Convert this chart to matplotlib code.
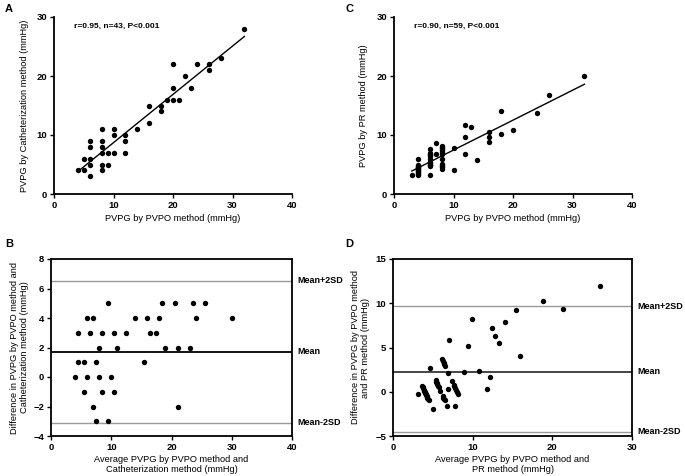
import matplotlib
matplotlib.use("Agg")
import matplotlib.pyplot as plt

plt.rcParams['font.family'] = ['Liberation Sans', 'DejaVu Sans']

# ---------------- Panel A data ----------------
a_x = [4, 5, 5, 6, 6, 6, 6, 6, 8, 8, 8, 8, 8, 8, 9, 9, 10, 10, 10, 12, 12, 12,
       14, 16, 16, 18, 18, 19, 20, 20, 20, 21, 22, 23, 24, 26, 26, 28, 32]
a_y = [4, 4, 6, 3, 5, 6, 8, 9, 4, 5, 7, 8, 9, 11, 5, 7, 7, 10, 11, 7, 9, 10,
       11, 12, 15, 14, 15, 16, 16, 18, 22, 16, 20, 18, 22, 21, 22, 23, 28]
a_fit_x = [4, 32]
a_fit_y = [3.8, 26.7]
a_text = "r=0.95, n=43, P<0.001"

# ---------------- Panel B data ----------------
b_x = [4, 4.5, 4.5, 5.5, 5.5, 6, 6, 6.5, 7, 7, 7.5, 7.5, 8, 8, 8.5, 8.5, 9.5, 9.5,
       10, 10.5, 10.5, 11, 12.5, 14, 15.5, 16, 16.5, 17.5, 18, 18.5, 19, 20.5,
       21, 21, 23, 23.5, 24, 25.5, 30]
b_y = [0, 1, 3, 1, -1, 0, 4, 3, 4, -2, 1, -3, 2, 0, 3, -1, 5, -3,
       0, 3, -1, 2, 3, 4, 1, 4, 3, 3, 4, 5, 2, 5,
       2, -2, 2, 5, 4, 5, 4]
b_mean, b_upper, b_lower = 1.72, 6.51, -3.10

# ---------------- Panel C data ----------------
c_x = [3,
       4, 4, 4, 4, 4, 4, 4, 4, 4, 4, 4, 4, 4, 4,
       6, 6, 6, 6, 6, 6, 6, 6, 6, 6, 6, 6, 6,
       7, 7,
       8, 8, 8, 8, 8, 8, 8, 8, 8, 8, 8, 8, 8,
       10, 10, 12, 12, 12, 13, 14, 16, 16, 16, 18, 18, 20, 24, 26, 32]
c_y = [3.2,
       3.3, 3.45, 3.6, 3.75, 3.9, 4.05, 4.1, 4.2, 4.35, 4.5, 4.65, 4.8, 4.95, 6.0,
       3.3, 4.7, 4.85, 5.0, 5.15, 5.3, 5.5, 5.9, 6.5, 6.65, 6.8, 6.95, 7.6,
       6.7, 8.6,
       4.3, 4.5, 4.7, 4.9, 5.1, 5.9, 6.8, 7.2, 7.4, 7.6, 7.8, 8.0, 8.2,
       4.1, 7.8, 6.8, 9.6, 11.7, 11.3, 5.8, 8.8, 9.7, 10.5, 10.1, 14.0, 10.8,
       13.7, 16.7, 20.0]
c_fit_x = [3, 32]
c_fit_y = [3.9, 18.6]
c_text = "r=0.90, n=59, P<0.001"

# ---------------- Panel D data ----------------
d_x = [3.1,
       3.65, 3.725, 3.8, 3.875, 3.95, 4.025, 4.05, 4.1, 4.175, 4.25, 4.325, 4.4, 4.475, 5.0,
       4.65, 5.35, 5.425, 5.5, 5.575, 5.65, 5.75, 5.95, 6.25, 6.325, 6.4, 6.475, 6.8,
       6.85, 7.8,
       6.15, 6.25, 6.35, 6.45, 6.55, 6.95, 7.4, 7.6, 7.7, 7.8, 7.9, 8.0, 8.1,
       7.05, 8.9, 9.4, 10.8, 11.85, 12.15, 9.9, 12.4, 12.85, 13.25, 14.05, 16.0,
       15.4, 18.85, 21.35, 26.0]
d_y = [-0.2,
       0.7, 0.55, 0.4, 0.25, 0.1, -0.05, -0.1, -0.2, -0.35, -0.5, -0.65, -0.8, -0.95, -2.0,
       2.7, 1.3, 1.15, 1.0, 0.85, 0.7, 0.5, 0.1, -0.5, -0.65, -0.8, -0.95, -1.6,
       0.3, -1.6,
       3.7, 3.5, 3.3, 3.1, 2.9, 2.1, 1.2, 0.8, 0.6, 0.4, 0.2, 0.0, -0.2,
       5.9, 2.2, 5.2, 2.4, 0.3, 1.7, 8.2, 7.2, 6.3, 5.5, 7.9, 4.0,
       9.2, 10.3, 9.3, 12.0]
d_mean, d_upper, d_lower = 2.25, 9.66, -4.5

tick_fs = 6.8
label_fs = 6.7
note_fs = 6.0
mean_fs = 6.5
dot_s = 15

fig = plt.figure(figsize=(6.85, 4.76), dpi=100)

axA = fig.add_axes([54/685, 1-194/476, 238/685, 177/476])
axC = fig.add_axes([394/685, 1-194/476, 238/685, 177/476])
axB = fig.add_axes([51/685, 1-436/476, 241/685, 177/476])
axD = fig.add_axes([393/685, 1-436/476, 239/685, 177/476])


def style(ax, box):
    for s in ['left', 'bottom']:
        ax.spines[s].set_linewidth(1.3)
    if box:
        for s in ['top', 'right']:
            ax.spines[s].set_linewidth(1.3)
    else:
        ax.spines['top'].set_visible(False)
        ax.spines['right'].set_visible(False)
    ax.tick_params(direction='out', length=3, width=1.0, labelsize=tick_fs, pad=2)
    for lab in ax.get_xticklabels() + ax.get_yticklabels():
        lab.set_fontweight('bold')


# Panel A
axA.scatter(a_x, a_y, s=dot_s, color='black', zorder=3, linewidths=0)
axA.plot(a_fit_x, a_fit_y, color='black', lw=1.0)
axA.set_xlim(0, 40)
axA.set_ylim(0, 30)
axA.set_xticks([0, 10, 20, 30, 40])
axA.set_yticks([0, 10, 20, 30])
axA.text(3.3, 28.4, a_text, fontsize=note_fs, fontweight='bold', va='center')
axA.set_xlabel("PVPG by PVPO method (mmHg)", fontsize=label_fs, labelpad=3)
axA.set_ylabel("PVPG by Catheterization method (mmHg)", fontsize=label_fs, labelpad=5)
style(axA, False)

# Panel C
axC.scatter(c_x, c_y, s=dot_s, color='black', zorder=3, linewidths=0)
axC.plot(c_fit_x, c_fit_y, color='black', lw=1.0)
axC.set_xlim(0, 40)
axC.set_ylim(0, 30)
axC.set_xticks([0, 10, 20, 30, 40])
axC.set_yticks([0, 10, 20, 30])
axC.text(3.3, 28.4, c_text, fontsize=note_fs, fontweight='bold', va='center')
axC.set_xlabel("PVPG by PVPO method (mmHg)", fontsize=label_fs, labelpad=3)
axC.set_ylabel("PVPG by PR method (mmHg)", fontsize=label_fs, labelpad=6)
style(axC, False)

# Panel B
axB.axhline(b_upper, color='#9a9a9a', lw=1.0)
axB.axhline(b_lower, color='#9a9a9a', lw=1.0)
axB.axhline(b_mean, color='black', lw=1.3)
axB.scatter(b_x, b_y, s=dot_s, color='black', zorder=3, linewidths=0)
axB.set_xlim(0, 40)
axB.set_ylim(-4, 8)
axB.set_xticks([0, 10, 20, 30, 40])
axB.set_yticks([-4, -2, 0, 2, 4, 6, 8])
axB.set_xlabel("Average PVPG by PVPO method and\nCatheterization method (mmHg)",
               fontsize=label_fs, labelpad=2, linespacing=1.15)
axB.set_ylabel("Difference in PVPG by PVPO method and\nCatheterization method (mmHg)",
               fontsize=label_fs, labelpad=3, linespacing=1.15)
for val, txt in [(b_upper, "Mean+2SD"), (b_mean, "Mean"), (b_lower, "Mean-2SD")]:
    axB.annotate(txt, xy=(1.0, val), xycoords=('axes fraction', 'data'),
                 xytext=(4, 0), textcoords='offset points',
                 fontsize=mean_fs, fontweight='bold', va='center', ha='left')
style(axB, True)

# Panel D
axD.axhline(d_upper, color='#9a9a9a', lw=1.0)
axD.axhline(d_lower, color='#9a9a9a', lw=1.0)
axD.axhline(d_mean, color='#444444', lw=1.4)
axD.scatter(d_x, d_y, s=dot_s, color='black', zorder=3, linewidths=0)
axD.set_xlim(0, 30)
axD.set_ylim(-5, 15)
axD.set_xticks([0, 10, 20, 30])
axD.set_yticks([-5, 0, 5, 10, 15])
axD.set_xlabel("Average PVPG by PVPO method and\nPR method (mmHg)",
               fontsize=label_fs, labelpad=2, linespacing=1.15)
axD.set_ylabel("Difference in PVPG by PVPO method\nand PR method (mmHg)",
               fontsize=label_fs, labelpad=4, linespacing=1.15)
for val, txt in [(d_upper, "Mean+2SD"), (d_mean, "Mean"), (d_lower, "Mean-2SD")]:
    axD.annotate(txt, xy=(1.0, val), xycoords=('axes fraction', 'data'),
                 xytext=(4, 0), textcoords='offset points',
                 fontsize=mean_fs, fontweight='bold', va='center', ha='left')
style(axD, True)

# Panel letters
for lbl, px, py in [("A", 5, 9), ("C", 345, 9), ("B", 5, 244), ("D", 345, 244)]:
    fig.text(px/685, 1-py/476, lbl, fontsize=8, fontweight='bold', va='center', ha='left')

fig.savefig("out.png", dpi=100)
